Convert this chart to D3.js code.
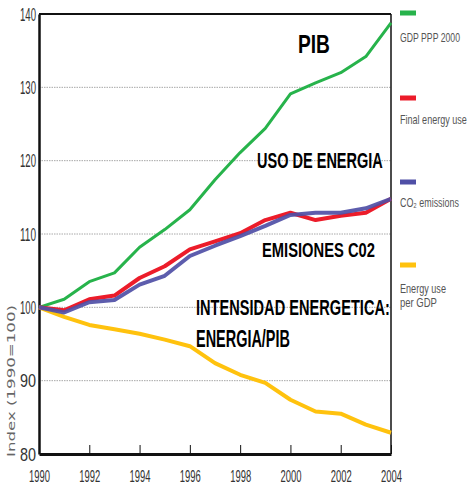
<!DOCTYPE html>
<html>
<head>
<meta charset="utf-8">
<script src="https://cdn.jsdelivr.net/npm/d3@7"></script>
<style>
  html, body { margin: 0; padding: 0; background: #fff; }
  svg { display: block; }
</style>
</head>
<body>
<svg id="chart" width="470" height="485"></svg>
<script>
// ─── Index (1990 = 100) ────────────────────────────

const years     = [1990, 1991, 1992, 1993, 1994, 1995, 1996, 1997, 1998, 1999, 2000, 2001, 2002, 2003, 2004];
const gdp       = [100, 101.1, 103.5, 104.7, 108.2, 110.6, 113.3, 117.4, 121.1, 124.4, 129.1, 130.6, 132.0, 134.2, 138.8];
const energy    = [100, 99.6, 101.1, 101.6, 104.0, 105.6, 107.9, 109.0, 110.1, 111.9, 112.9, 111.9, 112.5, 112.9, 114.8];
const co2       = [100, 99.3, 100.7, 101.0, 103.1, 104.3, 107.0, 108.4, 109.7, 111.1, 112.6, 112.9, 112.9, 113.5, 114.8];
const intensity = [100, 98.7, 97.6, 97.0, 96.4, 95.6, 94.7, 92.4, 90.8, 89.7, 87.4, 85.8, 85.5, 84.0, 82.9];

const yTicks = [80, 90, 100, 110, 120, 130, 140];
const xTicks = [1990, 1992, 1994, 1996, 1998, 2000, 2002, 2004];

const seriesNames  = ["GDP PPP 2000", "Final energy use", "CO₂ emissions", "Energy use", "per GDP"];
const seriesColors = ["#27b34b", "#ec1c2a", "#4f4fa6", "#ffc20e"];

const NARROW = "'Liberation Sans Narrow', 'Liberation Sans', 'DejaVu Sans Condensed', sans-serif";

const svg = d3.select("#chart");

const x = d3.scaleLinear().domain([1990, 2004]).range([39, 391]);
const y = d3.scaleLinear().domain([80, 140]).range([454, 14]);

// squeeze a left-anchored text horizontally so it spans w pixels
function fitText(sel, px, py, w) {
  sel.attr("x", 0).attr("y", 0);
  const n = sel.node().getComputedTextLength();
  const k = n > 0 ? w / n : 1;
  sel.attr("transform", `translate(${px},${py}) scale(${k},1)`);
}

// Gridlines (dotted)
svg.append("g").attr("class", "grid")
  .selectAll("line")
  .data(yTicks.filter(t => t > 80 && t < 140))
  .join("line")
  .attr("x1", x(1990)).attr("x2", x(2004))
  .attr("y1", d => y(d)).attr("y2", d => y(d))
  .attr("stroke", "#a8a8a8")
  .attr("stroke-width", 1)
  .attr("stroke-dasharray", "1.5,1");

// Frame: thin top/right, thick left/bottom
svg.append("line")
  .attr("x1", x(1990)).attr("x2", x(2004)).attr("y1", y(140)).attr("y2", y(140))
  .attr("stroke", "#111").attr("stroke-width", 2);
svg.append("line")
  .attr("x1", x(2004)).attr("x2", x(2004)).attr("y1", y(140)).attr("y2", y(80))
  .attr("stroke", "#111").attr("stroke-width", 1.5);

// Y axis
const yAxis = svg.append("g")
  .attr("transform", `translate(${x(1990)},0)`)
  .call(d3.axisLeft(y).tickValues(yTicks).tickSize(0).tickPadding(3));
yAxis.select(".domain").attr("stroke", "#111").attr("stroke-width", 2.5);
yAxis.selectAll("text")
  .attr("font-family", NARROW)
  .attr("font-size", 19)
  .attr("fill", "#333")
  .attr("textLength", 16)
  .attr("lengthAdjust", "spacingAndGlyphs");

// X axis (ticks pointing inward)
const xAxis = svg.append("g")
  .attr("transform", `translate(0,${y(80)})`)
  .call(d3.axisBottom(x).tickValues(xTicks).tickFormat(d3.format("d"))
    .tickSizeInner(-9).tickSizeOuter(0).tickPadding(16));
xAxis.select(".domain").attr("stroke", "#111").attr("stroke-width", 3);
xAxis.selectAll(".tick line").attr("stroke", "#111").attr("stroke-width", 1);
xAxis.selectAll("text")
  .attr("font-family", NARROW)
  .attr("font-size", 17)
  .attr("fill", "#333")
  .attr("textLength", 21)
  .attr("lengthAdjust", "spacingAndGlyphs");

// Y axis title
svg.append("text")
  .attr("transform", `translate(15,${381}) rotate(-90)`)
  .attr("text-anchor", "middle")
  .attr("font-family", "'DejaVu Sans', sans-serif")
  .attr("font-size", 11)
  .attr("fill", "#666")
  .attr("textLength", 152)
  .attr("lengthAdjust", "spacingAndGlyphs")
  .text("Index (1990=100)");

// Lines
const line = d3.line()
  .x((d, i) => x(years[i]))
  .y(d => y(d));

const seriesData = [gdp, energy, co2, intensity];
const widths = [3, 4, 4, 4];
const drawOrder = [3, 0, 1, 2];

svg.append("g").attr("class", "lines")
  .selectAll("path")
  .data(drawOrder)
  .join("path")
  .attr("d", i => line(seriesData[i]))
  .attr("fill", "none")
  .attr("stroke", i => seriesColors[i])
  .attr("stroke-width", i => widths[i])
  .attr("stroke-linejoin", "round")
  .attr("stroke-opacity", i => i === 2 ? 0.92 : 1);

// Annotations (Spanish labels)
const notes = [
  { t: "PIB",                    x: 298, y: 53,  s: 25, w: 32 },
  { t: "USO DE ENERGIA",         x: 257, y: 168, s: 22, w: 126 },
  { t: "EMISIONES  C02",         x: 262, y: 257, s: 21, w: 113 },
  { t: "INTENSIDAD ENERGETICA:", x: 196, y: 315, s: 23, w: 194 },
  { t: "ENERGIA/PIB",            x: 196, y: 347, s: 23, w: 94 },
];
svg.append("g").attr("class", "notes")
  .selectAll("text")
  .data(notes)
  .join("text")
  .attr("font-family", NARROW)
  .attr("font-weight", "bold")
  .attr("font-size", d => d.s)
  .attr("fill", "#000")
  .text(d => d.t)
  .each(function(d) { fitText(d3.select(this), d.x, d.y, d.w); });

// Legend
const legendSwatchY = [13, 98, 182, 265];
const legend = svg.append("g").attr("class", "legend");
legend.selectAll("rect")
  .data(seriesColors)
  .join("rect")
  .attr("x", 400).attr("y", (d, i) => legendSwatchY[i] - 2.5)
  .attr("width", 16).attr("height", 5)
  .attr("fill", d => d);

const legendTextY = [42, 124, 207, 293, 307];
const legendTextW = [60, 67, 59, 46, 37];
legend.selectAll("text")
  .data(seriesNames)
  .join("text")
  .attr("font-family", NARROW)
  .attr("font-size", d => d === "Energy use" || d === "per GDP" ? 12.5 : 13)
  .attr("fill", "#555")
  .text(d => d)
  .each(function(d, i) { fitText(d3.select(this), 400, legendTextY[i], legendTextW[i]); });
</script>
</body>
</html>
